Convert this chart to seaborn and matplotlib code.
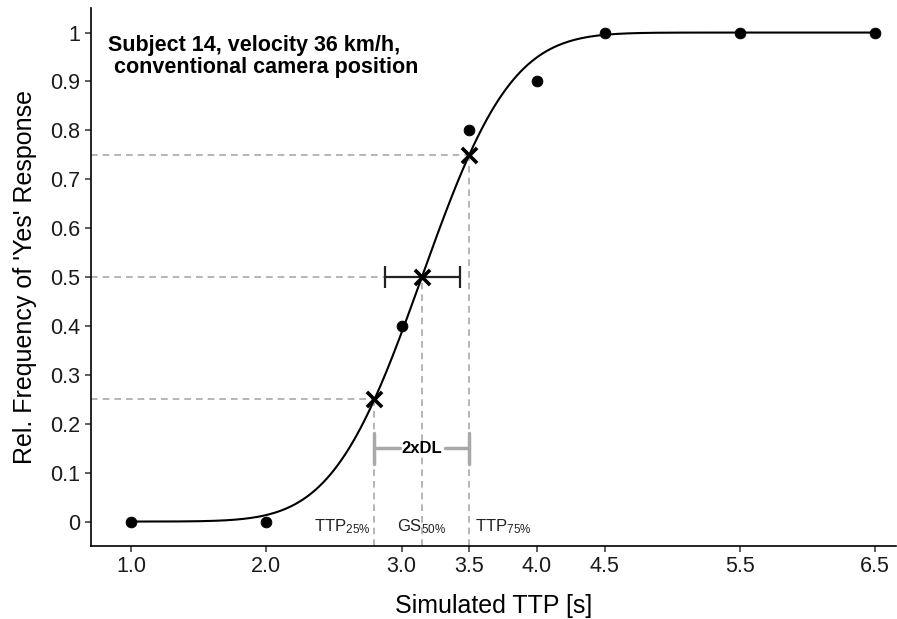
import math
import numpy as np
import pandas as pd
import seaborn as sns
import matplotlib
matplotlib.use('Agg')
import matplotlib.pyplot as plt

# observed data
ttp = [1.0, 2.0, 3.0, 3.5, 4.0, 4.5, 5.5, 6.5]
rel_freq = [0.0, 0.0, 0.4, 0.8, 0.9, 1.0, 1.0, 1.0]

# fitted psychometric function (cumulative normal)
gs50 = 3.15
ttp25 = 2.80
ttp75 = 3.50
sigma = (ttp75 - gs50) / 0.6745
ci_low, ci_high = 2.88, 3.43

x_ticks = [1.0, 2.0, 3.0, 3.5, 4.0, 4.5, 5.5, 6.5]
y_ticks = [0, 0.1, 0.2, 0.3, 0.4, 0.5, 0.6, 0.7, 0.8, 0.9, 1]
y_ticklabels = ["0", "0.1", "0.2", "0.3", "0.4", "0.5", "0.6", "0.7", "0.8", "0.9", "1"]

sns.set_style("white")
plt.rcParams['font.family'] = ['Liberation Sans', 'DejaVu Sans']
plt.rcParams['mathtext.fontset'] = 'custom'
plt.rcParams['mathtext.rm'] = 'Liberation Sans'
plt.rcParams['mathtext.it'] = 'Liberation Sans'
plt.rcParams['text.color'] = 'black'
plt.rcParams['axes.labelcolor'] = 'black'

xs = np.linspace(1.0, 6.5, 400)
curve = pd.DataFrame({"x": xs,
                      "y": [0.5 * (1 + math.erf((v - gs50) / (sigma * math.sqrt(2)))) for v in xs]})
pts = pd.DataFrame({"x": ttp, "y": rel_freq})
cross = pd.DataFrame({"x": [ttp25, gs50, ttp75], "y": [0.25, 0.5, 0.75]})

f = plt.figure(figsize=(8.97, 6.19), dpi=100)
ax = f.add_axes([0.1014, 0.1179, 0.897, 0.869])

xmin, xmax = 0.705, 6.65
ymin, ymax = -0.05, 1.05
grey = "#a9a9a9"

# dashed guides
for xv, yv in zip(cross["x"], cross["y"]):
    ax.plot([xmin, xv], [yv, yv], ls=(0, (4, 3)), color=grey, lw=1.2, zorder=1)
    ax.plot([xv, xv], [ymin, yv], ls=(0, (4, 3)), color=grey, lw=1.2, zorder=1)

sns.lineplot(data=curve, x="x", y="y", color="black", lw=1.5, ax=ax, zorder=3)
sns.scatterplot(data=pts, x="x", y="y", color="black", s=60, edgecolor="black", ax=ax, zorder=4)
sns.scatterplot(data=cross, x="x", y="y", marker="x", color="black", s=120, linewidth=2.6, ax=ax, zorder=5)

# confidence interval of GS50
ax.errorbar([gs50], [0.5], xerr=[[gs50 - ci_low], [ci_high - gs50]], fmt="none",
            ecolor="#222222", elinewidth=1.6, capsize=8, capthick=1.6, zorder=4)

# 2xDL bracket
yb = 0.15
ax.plot([ttp25, ttp25], [0.118, 0.182], color=grey, lw=2.5, zorder=2)
ax.plot([ttp75, ttp75], [0.118, 0.182], color=grey, lw=2.5, zorder=2)
ax.plot([ttp25, 2.99], [yb, yb], color=grey, lw=2.5, zorder=2)
ax.plot([3.32, ttp75], [yb, yb], color=grey, lw=2.5, zorder=2)
ax.text(gs50, yb, "2xDL", ha="center", va="center", fontsize=12, fontweight="bold")

ax.text(ttp25 - 0.03, -0.01, r"TTP$_{25\%}$", ha="right", va="center", fontsize=12, color="#222222")
ax.text(gs50, -0.01, r"GS$_{50\%}$", ha="center", va="center", fontsize=12, color="#222222")
ax.text(ttp75 + 0.04, -0.01, r"TTP$_{75\%}$", ha="left", va="center", fontsize=12, color="#222222")

ax.text(0.83, 0.995, "Subject 14, velocity 36 km/h,\n conventional camera position",
        ha="left", va="top", fontsize=15.5, fontweight="bold", linespacing=1.05)

ax.set_xlim(xmin, xmax)
ax.set_ylim(ymin, ymax)
ax.set_xticks(x_ticks)
ax.set_xticklabels([f"{v:.1f}" for v in x_ticks])
ax.set_yticks(y_ticks)
ax.set_yticklabels(y_ticklabels)
ax.tick_params(axis="both", length=4, width=1.1, color="#333333", labelsize=15.5, labelcolor="#1a1a1a", direction="out")
ax.xaxis.set_ticks_position("bottom")
ax.yaxis.set_ticks_position("left")
ax.set_xlabel("Simulated TTP [s]", fontsize=18, labelpad=12)
ax.set_ylabel("Rel. Frequency of 'Yes' Response", fontsize=18, labelpad=10)
sns.despine(ax=ax)
for s in ["left", "bottom"]:
    ax.spines[s].set_color("black")
    ax.spines[s].set_linewidth(1.2)

f.savefig("out.png", dpi=100)
